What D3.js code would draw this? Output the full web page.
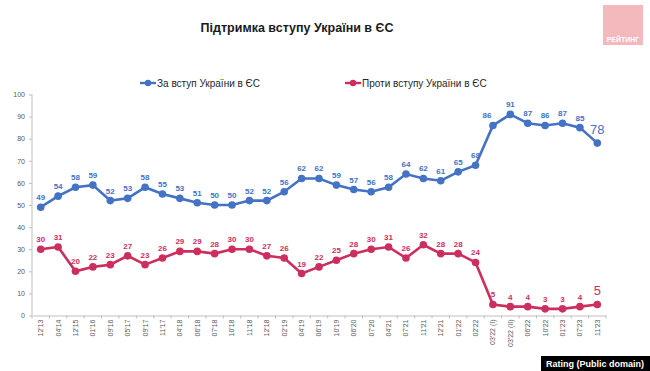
<!DOCTYPE html>
<html>
<head>
<meta charset="utf-8">
<script src="https://cdn.jsdelivr.net/npm/d3@7/dist/d3.min.js"></script>
<style>
    body { margin: 0; background: #fff; }
    svg { display: block; font-family: "Liberation Sans Narrow", "Liberation Sans", Arial, sans-serif; }
    .axis path, .axis line { stroke: #bfbfbf; }
    .axis text { fill: #595959; font-size: 7px; }
</style>
</head>
<body>
<svg width="650" height="371"></svg>
<script>
    // categories (survey waves)
    var waves = ["12'13", "04'14", "12'15", "01'16", "09'16", "05'17", "09'17", "11'17", "04'18", "06'18",
        "07'18", "10'18", "11'18", "12'18", "02'19", "04'19", "06'19", "10'19", "06'20", "07'20",
        "04'21", "07'21", "11'21", "12'21", "01'22", "02'22", "03'22 (I)", "03'22 (II)", "06'22", "10'22",
        "01'23", "07'23", "11'23"];

    var forJoin = [49, 54, 58, 59, 52, 53, 58, 55, 53, 51, 50, 50, 52, 52, 56, 62, 62, 59, 57, 56,
        58, 64, 62, 61, 65, 68, 86, 91, 87, 86, 87, 85, 78];

    var againstJoin = [30, 31, 20, 22, 23, 27, 23, 26, 29, 29, 28, 30, 30, 27, 26, 19, 22, 25, 28, 30,
        31, 26, 32, 28, 28, 24, 5, 4, 4, 3, 3, 4, 5];

    var yTicks = [0, 10, 20, 30, 40, 50, 60, 70, 80, 90, 100];

    var seriesNames = ["За вступ України в ЄС", "Проти вступу України в ЄС"];
    var colors = ["#4472c4", "#cc2f5e"];

    var svg = d3.select("svg");

    var x = d3.scaleBand().domain(waves).range([32, 606]);
    var y = d3.scaleLinear().domain([0, 100]).range([315.5, 94.5]);

    // title
    svg.append("text")
        .attr("x", 297).attr("y", 31.5)
        .attr("text-anchor", "middle")
        .style("font-size", "12.5px").style("font-weight", "bold").style("fill", "#1a1a1a")
        .text("Підтримка вступу України в ЄС");

    // logo
    svg.append("rect").attr("x", 603).attr("y", 5).attr("width", 40).attr("height", 40).attr("fill", "#f4b9bd");
    svg.append("text").attr("x", 623).attr("y", 42).attr("text-anchor", "middle")
        .style("font-size", "7px").style("font-weight", "bold").style("fill", "#fff")
        .style("font-family", "'Liberation Sans', Arial, sans-serif")
        .text("РЕЙТИНГ");

    // axes
    var gx = svg.append("g").attr("class", "axis")
        .attr("transform", "translate(0," + y(0) + ")")
        .call(d3.axisBottom(x).tickSize(0).tickPadding(0));
    gx.selectAll("text")
        .attr("transform", "rotate(-90)")
        .attr("x", -4).attr("y", 0).attr("dy", "0.35em")
        .style("text-anchor", "end");
    // tick marks on band edges
    gx.selectAll(".edge")
        .data(waves.concat(["end"]))
        .enter().append("line")
        .attr("stroke", "#bfbfbf")
        .attr("x1", function(d, i) { return x.range()[0] + i * x.bandwidth(); })
        .attr("x2", function(d, i) { return x.range()[0] + i * x.bandwidth(); })
        .attr("y1", 0).attr("y2", 3);

    svg.append("g").attr("class", "axis")
        .attr("transform", "translate(32,0)")
        .call(d3.axisLeft(y).tickValues(yTicks).tickSize(3).tickPadding(4))
        .select(".domain").attr("d", "M0," + y(100) + "V" + y(0));

    // lines
    var series = [forJoin, againstJoin];
    var line = d3.line()
        .x(function(d, i) { return x(waves[i]) + x.bandwidth() / 2; })
        .y(function(d) { return y(d); });

    series.forEach(function(values, s) {
        var g = svg.append("g");
        g.append("path")
            .datum(values)
            .attr("fill", "none")
            .attr("stroke", colors[s])
            .attr("stroke-width", 2.6)
            .attr("d", line);
        g.selectAll("circle")
            .data(values)
            .enter().append("circle")
            .attr("cx", function(d, i) { return x(waves[i]) + x.bandwidth() / 2; })
            .attr("cy", function(d) { return y(d); })
            .attr("r", 3.8)
            .attr("fill", colors[s]);
        g.selectAll(".lbl")
            .data(values)
            .enter().append("text")
            .attr("text-anchor", "middle")
            .attr("x", function(d, i) { return x(waves[i]) + x.bandwidth() / 2 - (s == 0 && i == 26 ? 6 : 0); })
            .attr("y", function(d, i) { return y(d) - (i == values.length - 1 ? 9 : 7); })
            .style("font-size", function(d, i) { return i == values.length - 1 ? "13px" : "8px"; })
            .style("font-weight", function(d, i) { return i == values.length - 1 ? "normal" : "bold"; })
            .style("fill", colors[s])
            .text(function(d) { return d; });
    });

    // legend
    var legendX = [140, 345];
    seriesNames.forEach(function(name, s) {
        var lg = svg.append("g").attr("transform", "translate(" + legendX[s] + ",83)");
        lg.append("line").attr("x1", 0).attr("x2", 16).attr("stroke", colors[s]).attr("stroke-width", 2.4);
        lg.append("circle").attr("cx", 8).attr("r", 3.2).attr("fill", colors[s]);
        lg.append("text").attr("x", 17).attr("dy", "0.35em")
            .style("font-size", "10px").style("fill", "#262626")
            .text(name);
    });

    // credit box
    svg.append("rect").attr("x", 541).attr("y", 356).attr("width", 109).attr("height", 15).attr("fill", "#000");
    svg.append("text").attr("x", 546).attr("y", 367)
        .style("font-size", "9px").style("font-weight", "bold").style("fill", "#fff")
        .style("font-family", "'Liberation Sans', Arial, sans-serif")
        .text("Rating (Public domain)");
</script>
</body>
</html>
